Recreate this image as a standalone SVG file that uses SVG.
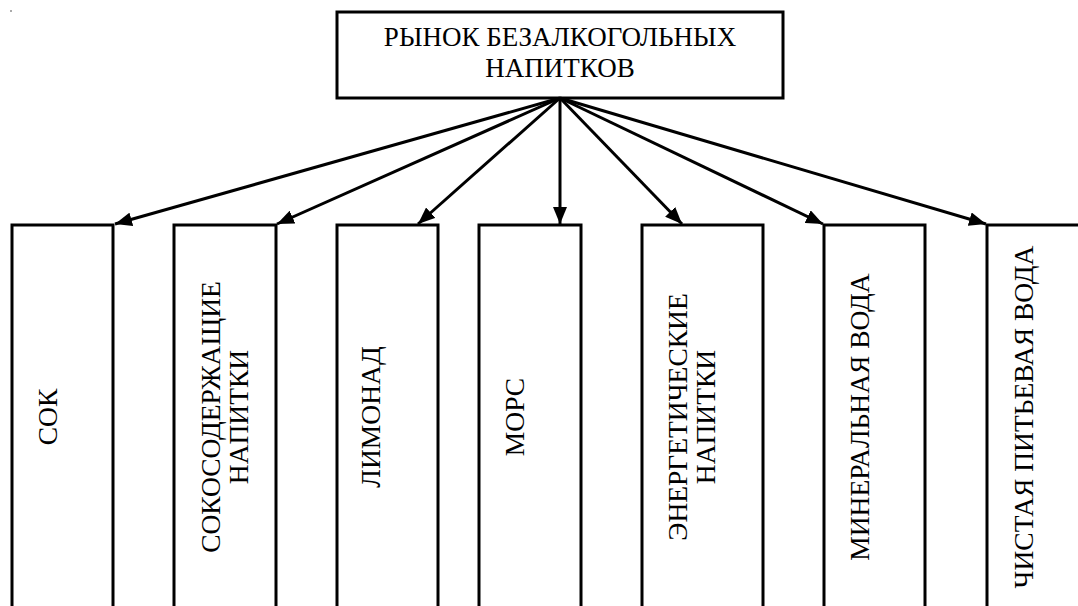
<svg xmlns="http://www.w3.org/2000/svg" width="1078" height="606" viewBox="0 0 1078 606">
<style>
.box{fill:#fff;stroke:#000;stroke-width:3}
.t{font-family:"Liberation Serif","Times New Roman",serif;font-size:27.5px;fill:#000;text-anchor:middle}
.h{font-size:27px}
.c{fill:none;stroke:#000;stroke-width:3}
</style>
<defs>
<marker id="ah" markerUnits="userSpaceOnUse" markerWidth="18" markerHeight="14" refX="17" refY="7" orient="auto">
<path d="M0,0 L17,7 L0,14 z" fill="#000"/>
</marker>
</defs>
<rect width="1078" height="606" fill="#fff"/>
<rect x="10" y="10" width="2" height="2" fill="#aaa"/>
<g id="root">
<rect class="box" x="337" y="12" width="446" height="86"/>
<text class="t h" x="560" y="46">РЫНОК БЕЗАЛКОГОЛЬНЫХ</text>
<text class="t h" x="560" y="77">НАПИТКОВ</text>
</g>
<g id="n1">
<rect class="box" x="12" y="225" width="101" height="400"/>
<text class="t" transform="translate(57,417) rotate(-90)">СОК</text>
</g>
<g id="n2">
<rect class="box" x="174" y="225" width="102" height="400"/>
<text class="t" transform="translate(220,417) rotate(-90)">СОКОСОДЕРЖАЩИЕ</text>
<text class="t" transform="translate(248,417) rotate(-90)">НАПИТКИ</text>
</g>
<g id="n3">
<rect class="box" x="337" y="225" width="101" height="400"/>
<text class="t" transform="translate(380,417) rotate(-90)">ЛИМОНАД</text>
</g>
<g id="n4">
<rect class="box" x="479" y="225" width="102" height="400"/>
<text class="t" transform="translate(524,417) rotate(-90)">МОРС</text>
</g>
<g id="n5">
<rect class="box" x="642" y="225" width="121" height="400"/>
<text class="t" transform="translate(687,417) rotate(-90)">ЭНЕРГЕТИЧЕСКИЕ</text>
<text class="t" transform="translate(715,417) rotate(-90)">НАПИТКИ</text>
</g>
<g id="n6">
<rect class="box" x="824" y="225" width="101" height="400"/>
<text class="t" transform="translate(869,417) rotate(-90)">МИНЕРАЛЬНАЯ ВОДА</text>
</g>
<g id="n7">
<rect class="box" x="987" y="225" width="120" height="400"/>
<text class="t" transform="translate(1033,417) rotate(-90)">ЧИСТАЯ ПИТЬЕВАЯ ВОДА</text>
</g>
<g id="connectors">
<line class="c" x1="560" y1="98" x2="115" y2="224" marker-end="url(#ah)"/>
<line class="c" x1="560" y1="98" x2="277" y2="224" marker-end="url(#ah)"/>
<line class="c" x1="560" y1="98" x2="418" y2="224" marker-end="url(#ah)"/>
<line class="c" x1="560" y1="98" x2="560" y2="224" marker-end="url(#ah)"/>
<line class="c" x1="560" y1="98" x2="682" y2="224" marker-end="url(#ah)"/>
<line class="c" x1="560" y1="98" x2="823" y2="224" marker-end="url(#ah)"/>
<line class="c" x1="560" y1="98" x2="986" y2="224" marker-end="url(#ah)"/>
</g>
</svg>
